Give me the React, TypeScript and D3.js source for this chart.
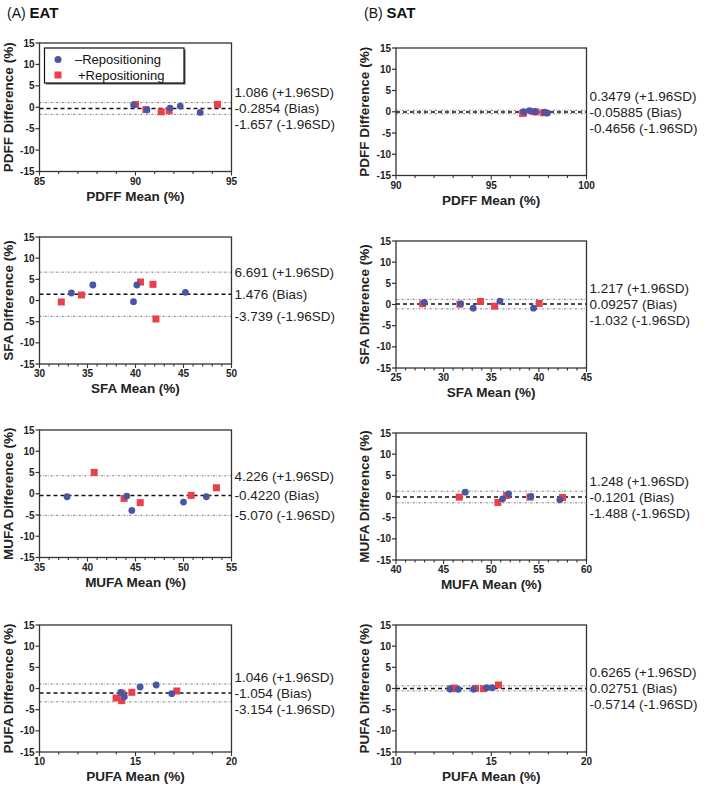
import { useEffect, useRef } from 'react';
import * as d3 from 'd3';

// Bland-Altman panels: EAT (left column) and SAT (right column)
const metrics = ['PDFF', 'SFA', 'MUFA', 'PUFA'];
const tissues = ['EAT', 'SAT'];
const panelTags = ['(A)', '(B)'];

const eatXDomains = [[85, 95], [30, 50], [35, 55], [10, 20]];
const satXDomains = [[90, 100], [25, 45], [40, 60], [10, 20]];
const yTicks = [-15, -10, -5, 0, 5, 10, 15];

const seriesNames = ['\u2013Repositioning', '+Repositioning'];

// [mean, difference] pairs
const eatPdffMinus = [[89.9, 0.5], [90.6, -0.6], [91.8, -0.2], [92.33, 0.27], [93.37, -1.2]];
const eatPdffPlus = [[90.0, 0.66], [90.54, -0.55], [91.34, -1.06], [91.75, -0.82], [94.27, 0.66]];
const eatSfaMinus = [[33.32, 1.77], [35.56, 3.66], [39.79, -0.28], [40.14, 3.66], [45.2, 1.93]];
const eatSfaPlus = [[32.27, -0.35], [34.37, 1.3], [40.52, 4.37], [41.82, 3.82], [42.13, -4.37]];
const eatMufaMinus = [[37.87, -0.71], [44.09, -0.55], [44.62, -3.93], [50.0, -1.96], [52.38, -0.71]];
const eatMufaPlus = [[40.7, 5.02], [43.81, -1.1], [45.49, -2.1], [50.8, -0.39], [53.43, 1.41]];
const eatPufaMinus = [[14.23, -0.9], [14.42, -1.93], [15.24, 0.35], [16.08, 0.83], [16.89, -1.22]];
const eatPufaPlus = [[13.99, -2.24], [14.28, -2.87], [14.3, -1.14], [14.81, -0.9], [17.15, -0.59]];

const satPdffMinus = [[96.7, 0.0], [97.0, 0.28], [97.3, 0.0], [97.8, -0.1], [97.95, -0.3]];
const satPdffPlus = [[96.65, -0.4], [96.7, -0.2], [97.2, 0.05], [97.35, -0.05], [97.75, -0.25]];
const satSfaMinus = [[27.97, 0.47], [31.78, 0.16], [33.11, -0.86], [35.91, 0.79], [39.44, -0.86]];
const satSfaPlus = [[27.8, 0.16], [31.71, 0.08], [33.88, 0.71], [35.35, -0.39], [40.03, 0.24]];
const satMufaMinus = [[47.27, 1.02], [51.19, -0.55], [51.82, 0.63], [54.16, 0.0], [57.2, -0.79]];
const satMufaPlus = [[46.64, -0.16], [50.7, -1.41], [51.61, 0.24], [54.06, -0.16], [57.48, -0.24]];
const satPufaMinus = [[12.83, -0.12], [13.27, -0.2], [14.07, -0.2], [14.76, 0.2], [15.05, 0.2]];
const satPufaPlus = [[12.95, -0.05], [13.06, 0.12], [14.18, 0.04], [14.6, -0.04], [15.38, 0.83]];

// upper LoA, bias, lower LoA
const eatLimits = [[1.086, -0.2854, -1.657], [6.691, 1.476, -3.739], [4.226, -0.422, -5.07], [1.046, -1.054, -3.154]];
const satLimits = [[0.3479, -0.05885, -0.4656], [1.217, 0.09257, -1.032], [1.248, -0.1201, -1.488], [0.6265, 0.02751, -0.5714]];
const eatLimitText = [['1.086', '-0.2854', '-1.657'], ['6.691', '1.476', '-3.739'], ['4.226', '-0.4220', '-5.070'], ['1.046', '-1.054', '-3.154']];
const satLimitText = [['0.3479', '-0.05885', '-0.4656'], ['1.217', '0.09257', '-1.032'], ['1.248', '-0.1201', '-1.488'], ['0.6265', '0.02751', '-0.5714']];
const limitSuffix = ['(+1.96SD)', '(Bias)', '(-1.96SD)'];

const BLUE = '#4a55a4';
const RED = '#e9404b';
const FONT = 'Arial, "Liberation Sans", Helvetica, sans-serif';

// plot frames [left, right, top, bottom]
const eatFrames = [[39.5, 231.5, 43, 171.5], [39.5, 231.5, 237, 364], [39.5, 231.5, 430, 557.5], [39.5, 231.5, 625, 752]];
const satFrames = [[396, 586.5, 48, 175.5], [396, 586.5, 241, 368], [396, 586.5, 433, 560], [396, 586.5, 625, 752]];

const App = () => {
  const ref = useRef<HTMLDivElement>(null);

  useEffect(() => {
    if (!ref.current) return;
    document.body.style.margin = '0';
    d3.select(ref.current).selectAll('svg').remove();

    const svg = d3.select(ref.current)
      .append('svg')
      .attr('width', 709)
      .attr('height', 790)
      .style('display', 'block')
      .style('background', 'white')
      .style('font-family', FONT);

    const columns = [
      { frames: eatFrames, domains: eatXDomains, limits: eatLimits, text: eatLimitText,
        minus: [eatPdffMinus, eatSfaMinus, eatMufaMinus, eatPufaMinus],
        plus: [eatPdffPlus, eatSfaPlus, eatMufaPlus, eatPufaPlus] },
      { frames: satFrames, domains: satXDomains, limits: satLimits, text: satLimitText,
        minus: [satPdffMinus, satSfaMinus, satMufaMinus, satPufaMinus],
        plus: [satPdffPlus, satSfaPlus, satMufaPlus, satPufaPlus] },
    ];

    // column headers
    const headerX = [7, 364];
    tissues.forEach((t, c) => {
      const h = svg.append('text')
        .attr('x', headerX[c])
        .attr('y', 18)
        .style('font-size', '14px')
        .attr('fill', '#111');
      h.append('tspan').text(panelTags[c] + ' ');
      h.append('tspan').style('font-weight', 'bold').style('font-size', '15px').text(t);
    });

    columns.forEach((col, c) => {
      metrics.forEach((m, i) => {
        const [left, right, top, bottom] = col.frames[i];
        const x = d3.scaleLinear().domain(col.domains[i]).range([left, right]);
        const y = d3.scaleLinear().domain([-15, 15]).range([bottom, top]);
        const g = svg.append('g');

        // LoA and bias lines
        const lim = col.limits[i];
        lim.forEach((v, k) => {
          g.append('line')
            .attr('x1', left).attr('x2', right)
            .attr('y1', y(v)).attr('y2', y(v))
            .attr('stroke', k === 1 ? '#111' : '#666')
            .attr('stroke-width', k === 1 ? 1.5 : 0.9)
            .attr('stroke-dasharray', k === 1 ? '4,3' : '2,1.5,0.6,1.5');
        });

        // points: +Repositioning squares, then -Repositioning circles
        const sq = 7;
        g.selectAll('rect.plus')
          .data(col.plus[i])
          .enter()
          .append('rect')
          .attr('class', 'plus')
          .attr('x', d => x(d[0]) - sq / 2)
          .attr('y', d => y(d[1]) - sq / 2)
          .attr('width', sq)
          .attr('height', sq)
          .attr('fill', RED);

        g.selectAll('circle.minus')
          .data(col.minus[i])
          .enter()
          .append('circle')
          .attr('class', 'minus')
          .attr('cx', d => x(d[0]))
          .attr('cy', d => y(d[1]))
          .attr('r', 3.4)
          .attr('fill', BLUE);

        // frame
        g.append('rect')
          .attr('x', left).attr('y', top)
          .attr('width', right - left).attr('height', bottom - top)
          .attr('fill', 'none')
          .attr('stroke', '#333')
          .attr('stroke-width', 1.3);

        // y axis ticks
        yTicks.forEach(t => {
          g.append('line')
            .attr('x1', left - 4).attr('x2', left)
            .attr('y1', y(t)).attr('y2', y(t))
            .attr('stroke', '#333').attr('stroke-width', 1.2);
          g.append('text')
            .attr('x', left - 5)
            .attr('y', y(t))
            .attr('dy', '0.35em')
            .attr('text-anchor', 'end')
            .style('font-size', '10px')
            .style('font-weight', 'bold')
            .attr('fill', '#222')
            .text(t);
        });

        // x axis ticks: minor every 1, major every 5
        const [x0, x1] = col.domains[i];
        d3.range(x0, x1 + 0.5, 1).forEach(t => {
          const major = t % 5 === 0;
          g.append('line')
            .attr('x1', x(t)).attr('x2', x(t))
            .attr('y1', bottom).attr('y2', bottom + (major ? 4 : 2.5))
            .attr('stroke', '#333').attr('stroke-width', 1.1);
          if (major) {
            g.append('text')
              .attr('x', x(t))
              .attr('y', bottom + 13)
              .attr('text-anchor', 'middle')
              .style('font-size', '10px')
              .style('font-weight', 'bold')
              .attr('fill', '#222')
              .text(t);
          }
        });

        // axis titles
        g.append('text')
          .attr('x', (left + right) / 2)
          .attr('y', bottom + 29)
          .attr('text-anchor', 'middle')
          .style('font-size', '13.5px')
          .style('font-weight', 'bold')
          .attr('fill', '#222')
          .text(`${m} Mean (%)`);

        g.append('text')
          .attr('transform', `translate(${left - 27},${(top + bottom) / 2}) rotate(-90)`)
          .attr('text-anchor', 'middle')
          .style('font-size', '13.5px')
          .style('font-weight', 'bold')
          .attr('fill', '#222')
          .text(`${m} Difference (%)`);

        // limit labels, spread apart around the bias line
        const gap = 16;
        const yb = y(lim[1]);
        const ys = [Math.min(y(lim[0]), yb - gap), yb, Math.max(y(lim[2]), yb + gap)];
        ys.forEach((yy, k) => {
          g.append('text')
            .attr('x', right + 3)
            .attr('y', yy)
            .attr('dy', '0.35em')
            .style('font-size', '13.5px')
            .attr('fill', '#222')
            .text(`${col.text[i][k]} ${limitSuffix[k]}`);
        });

        // legend in the first panel
        if (c === 0 && i === 0) {
          const lg = svg.append('g');
          lg.append('rect')
            .attr('x', 46).attr('y', 49.5)
            .attr('width', 139.5).attr('height', 35)
            .attr('fill', '#555');
          lg.append('rect')
            .attr('x', 44.5).attr('y', 48)
            .attr('width', 139.5).attr('height', 35)
            .attr('fill', 'white')
            .attr('stroke', '#111')
            .attr('stroke-width', 1.2);
          lg.append('circle')
            .attr('cx', 58).attr('cy', 59.5).attr('r', 3.5)
            .attr('fill', BLUE);
          lg.append('rect')
            .attr('x', 54.5).attr('y', 71.5).attr('width', 7).attr('height', 7)
            .attr('fill', RED);
          seriesNames.forEach((s, k) => {
            lg.append('text')
              .attr('x', k === 0 ? 75 : 78)
              .attr('y', k === 0 ? 64 : 80)
              .style('font-size', '13px')
              .attr('fill', '#111')
              .text(s);
          });
        }
      });
    });

    return () => {
      if (ref.current) d3.select(ref.current).selectAll('svg').remove();
    };
  }, []);

  return <div ref={ref} style={{ width: 709, height: 790 }} />;
};

export default App;
